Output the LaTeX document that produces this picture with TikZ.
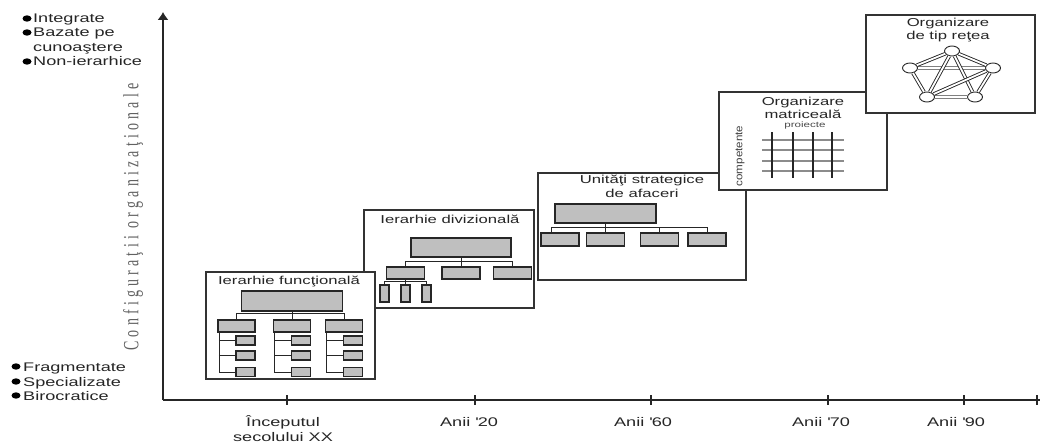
\documentclass[tikz,border=0pt]{standalone}
\usepackage{fontspec}
\usepackage{graphicx}
\setmainfont{Liberation Sans}[FakeStretch=1.45]
\newfontfamily\sidefont{Liberation Serif}[LetterSpace=30]
\usetikzlibrary{arrows.meta,shapes.geometric}

\tikzstyle{panel}=[draw=black!80, fill=white, line width=1.2pt, inner sep=0pt]
\tikzstyle{orgbox}=[draw=black!85, fill=black!25, line width=1.1pt, inner sep=0pt]
\tikzstyle{link}=[draw=black!85, line width=0.8pt]
\tikzstyle{axisline}=[draw=black!85, line width=1.1pt]
\tikzstyle{lbl}=[inner sep=0pt, text=black!85, font=\fontsize{12.5}{15}\selectfont]
\tikzstyle{ttl}=[inner sep=0pt, text=black!85, font=\fontsize{11.5}{13.5}\selectfont]

\begin{document}
\begin{tikzpicture}[x=1pt, y=-1pt]
    \tikzstyle{hub}=[draw=black!85, fill=white, ellipse, line width=0.9pt,
        minimum width=15pt, minimum height=10pt, inner sep=0pt]
    \tikzstyle{tie}=[draw=black!85, line width=0.9pt, double=white,
        double distance=1.8pt]
  \useasboundingbox (0,0) rectangle (1040,444);

  % axes
  \coordinate (org) at (163,400);
  \coordinate (ytop) at (163,12);
  \coordinate (xend) at (1040,400);
  \draw[axisline, -{Latex[length=8pt,width=11pt]}] (org) -- (ytop);
  \draw[axisline] (org) -- (xend);
  \foreach \x in {287,475,651,828,964,1037}
      \draw[axisline] (\x,395) -- (\x,405);
  \foreach \name/\x/\txt in {dA/283/Începutul, dB/469/Anii \textquotesingle 20,
                             dC/643/Anii \textquotesingle 60, dD/821/Anii \textquotesingle 70,
                             dE/956/Anii \textquotesingle 90}
      \node[lbl, anchor=base] (\name) at (\x,426) {\txt};
  \node[lbl, anchor=base] (dA2) at (283,441) {secolului XX};

  \node[rotate=90, inner sep=0pt, text=black!62, font=\sidefont\fontsize{14}{16}\selectfont]
      (ycap) at (133,217) {\scalebox{1}[1.55]{Configuraţii organizaţionale}};

  % left labels
  \foreach \name/\y/\txt in {liA/23/Integrate, liB/37/Bazate pe, liD/66/Non-ierarhice}
  {
      \node[lbl, anchor=base west] (\name) at (33,\y) {\txt};
      \fill[black] ([xshift=-6pt, yshift=4.5pt]\name.base west) ellipse (4.5pt and 3.2pt);
  }
  \node[lbl, anchor=base west] (liC) at (33,52) {cunoaştere};
  \foreach \name/\y/\txt in {lbA/371/Fragmentate, lbB/386/Specializate, lbC/400/Birocratice}
  {
      \node[lbl, anchor=base west] (\name) at (23,\y) {\txt};
      \fill[black] ([xshift=-7pt, yshift=4.5pt]\name.base west) ellipse (4.5pt and 3.2pt);
  }

  % ierarhie divizionala
  \node[panel, minimum width=170pt, minimum height=98pt] (dv) at (449,259) {};
  \node[ttl, anchor=base] (dvT) at (450,223) {Ierarhie divizională};
  \node[orgbox, minimum width=100pt, minimum height=19pt] (dvTop) at (461,247.5) {};
  \foreach \name/\x in {dvA/405.5, dvB/461, dvC/512.5}
      \node[orgbox, minimum width=38pt, minimum height=12pt] (\name) at (\x,273) {};
  \foreach \name/\x in {dvA1/384.5, dvA2/405.5, dvA3/426.5}
      \node[orgbox, minimum width=9pt, minimum height=17pt] (\name) at (\x,293.5) {};
  \draw[link] (dvTop) -- (dvB);
  \draw[link] (dvA.north) -- ++(0,-5) -| (dvC.north);
  \draw[link] (dvA) -- (dvA2);
  \draw[link] (dvA1.north) -- ++(0,-3) -| (dvA3.north);

  % ierarhie functionala
  \node[panel, minimum width=169pt, minimum height=107pt] (fn) at (290.5,325.5) {};
  \node[ttl, anchor=base] (fnT) at (289,284) {Ierarhie funcţională};
  \node[orgbox, minimum width=101pt, minimum height=20pt] (fnTop) at (292,301) {};
  \foreach \name/\x in {fnA/236.5, fnB/292, fnC/344}
      \node[orgbox, minimum width=37pt, minimum height=12pt] (\name) at (\x,326) {};
  \draw[link] (fnTop) -- (fnB);
  \draw[link] (fnA.north) -- ++(0,-6) -| (fnC.north);
  \foreach \c in {A,B,C}
  {
      \foreach \i/\y in {1/340.5, 2/355.5, 3/372}
          \node[orgbox, minimum width=19pt, minimum height=9pt, anchor=east]
              (fn\c\i) at (fn\c.east |- 0,\y) {};
      \draw[link] ([xshift=1.5pt]fn\c.south west) |- (fn\c3.west);
      \foreach \i in {1,2}
          \draw[link] ([xshift=1.5pt]fn\c.south west |- fn\c\i.west) -- (fn\c\i.west);
  }

  % unitati strategice
  \node[panel, minimum width=208pt, minimum height=107pt] (su) at (642,226.5) {};
  \node[ttl, anchor=base] (suT1) at (642,183) {Unităţi strategice};
  \node[ttl, anchor=base] (suT2) at (642,197) {de afaceri};
  \node[orgbox, minimum width=101pt, minimum height=19pt] (suTop) at (605.5,213.5) {};
  \foreach \name/\x in {suA/560, suB/605.5, suC/659.5, suD/707}
      \node[orgbox, minimum width=38pt, minimum height=13pt] (\name) at (\x,239.5) {};
  \draw[link] (suTop) -- (suB);
  \draw[link] ([xshift=-9pt]suA.north) -- ++(0,-5) -| (suD.north);
  \draw[link] (suC.north) -- ++(0,-5);

  % matriceala
  \node[panel, minimum width=168pt, minimum height=98pt] (mx) at (803,141) {};
  \node[ttl, anchor=base] (mxT1) at (803,105) {Organizare};
  \node[ttl, anchor=base] (mxT2) at (803,118) {matriceală};
  \node[inner sep=0pt, text=black!70, font=\fontsize{8}{9}\selectfont, anchor=base]
      (mxP) at (805,127) {proiecte};
  \node[inner sep=0pt, text=black!75, font=\fontsize{8}{9}\selectfont, rotate=90]
      (mxC) at (740,156) {\scalebox{1}[1.3]{competente}};
  \foreach \y in {140,150,161,171}
      \draw[black!45, line width=1.6pt] (762,\y) -- (844,\y);
  \foreach \x in {772,793,813,832}
      \draw[black!85, line width=1.5pt] (\x,132) -- (\x,178);

  % retea
  \node[panel, minimum width=169pt, minimum height=98pt] (nw) at (950.5,64) {};
  \node[ttl, anchor=base] (nwT1) at (948,27) {Organizare};
  \node[ttl, anchor=base] (nwT2) at (948,40) {de tip reţea};
  \foreach \name/\x/\y in {nwT/952/51, nwL/910/68, nwR/993/68, nwBL/927/97, nwBR/975/97}
      \node[hub] (\name) at (\x,\y) {};
  \foreach \a/\b in {nwL/nwR, nwBL/nwBR}
      \path[tie, draw=black!50] (\a) -- (\b);
  \foreach \a/\b in {nwT/nwL, nwT/nwR, nwL/nwBL, nwR/nwBR, nwT/nwBL, nwT/nwBR, nwBL/nwR}
      \path[tie] (\a) -- (\b);

\end{tikzpicture}
\end{document}
